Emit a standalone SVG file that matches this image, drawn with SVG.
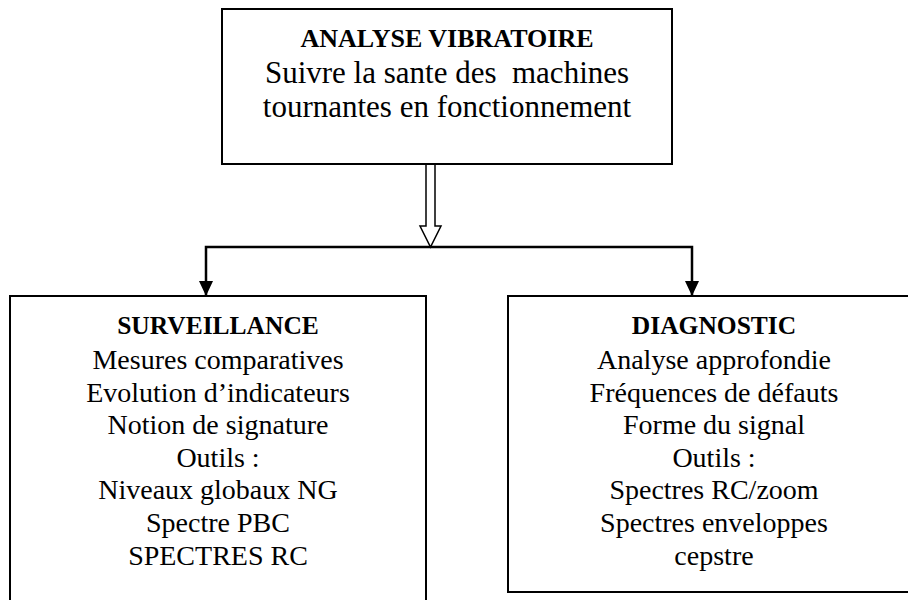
<svg xmlns="http://www.w3.org/2000/svg" width="908" height="600" viewBox="0 0 908 600">
<defs>
<style>
.box{fill:#fff;stroke:#000;stroke-width:2}
.t{font-family:"Liberation Serif","Times New Roman",serif;fill:#000;text-anchor:middle}
.tb{font-weight:bold;font-size:26px}
.tr{font-size:31px}
.sb{font-weight:bold;font-size:25.5px}
.sr{font-size:28px}
.ln{fill:none;stroke:#000;stroke-width:2.5}
</style>
<marker id="ah" viewBox="0 0 14 15" refX="7" refY="15" markerWidth="14" markerHeight="15" markerUnits="userSpaceOnUse" orient="auto-start-reverse">
<path d="M0,0 L14,0 L7,15 Z" fill="#000"/>
</marker>
</defs>
<g id="connectors">
<polygon points="426,164 435,164 435,226 441,226 430.5,247 420,226 426,226" fill="#fff" stroke="#000" stroke-width="1.5"/>
<path class="ln" d="M206,296 L206,247 L692,247 L692,296"/>
<path d="M199,281 L213,281 L206,296 Z" fill="#000"/>
<path d="M685,281 L699,281 L692,296 Z" fill="#000"/>
</g>
<g id="node-analyse">
<rect class="box" x="222" y="9" width="450" height="155"/>
<text class="t tb" x="447" y="47">ANALYSE VIBRATOIRE</text>
<text class="t tr" x="447" y="83" xml:space="preserve">Suivre la sante des  machines</text>
<text class="t tr" x="447" y="117">tournantes en fonctionnement</text>
</g>
<g id="node-surveillance">
<rect class="box" x="10" y="296" width="416" height="320"/>
<text class="t sb" x="218" y="334">SURVEILLANCE</text>
<text class="t sr" x="218" y="369">Mesures comparatives</text>
<text class="t sr" x="218" y="402">Evolution d’indicateurs</text>
<text class="t sr" x="218" y="434">Notion de signature</text>
<text class="t sr" x="218" y="467">Outils :</text>
<text class="t sr" x="218" y="499">Niveaux globaux NG</text>
<text class="t sr" x="218" y="532">Spectre PBC</text>
<text class="t sr" x="218" y="565">SPECTRES RC</text>
</g>
<g id="node-diagnostic">
<rect class="box" x="508" y="296" width="420" height="296"/>
<text class="t sb" x="714" y="334">DIAGNOSTIC</text>
<text class="t sr" x="714" y="369">Analyse approfondie</text>
<text class="t sr" x="714" y="402">Fréquences de défauts</text>
<text class="t sr" x="714" y="434">Forme du signal</text>
<text class="t sr" x="714" y="467">Outils :</text>
<text class="t sr" x="714" y="499">Spectres RC/zoom</text>
<text class="t sr" x="714" y="532">Spectres enveloppes</text>
<text class="t sr" x="714" y="565">cepstre</text>
</g>
</svg>
